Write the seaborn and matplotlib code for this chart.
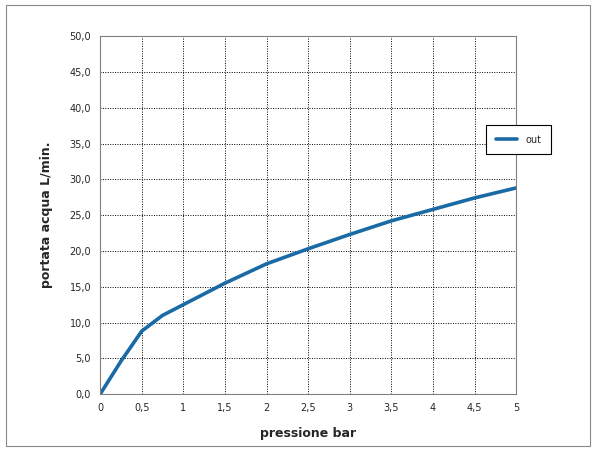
import matplotlib
matplotlib.use('Agg')
import matplotlib.pyplot as plt
import seaborn as sns
import pandas as pd
from matplotlib.patches import Rectangle

# pressure (bar) vs water flow (L/min)
pressione = [0, 0.25, 0.5, 0.75, 1, 1.5, 2, 2.5, 3, 3.5, 4, 4.5, 5]
portata = [0, 4.6, 8.8, 11.0, 12.5, 15.5, 18.2, 20.3, 22.3, 24.2, 25.8, 27.4, 28.8]
serie = "out"

x_ticks = [0, 0.5, 1, 1.5, 2, 2.5, 3, 3.5, 4, 4.5, 5]
y_ticks = [0, 5, 10, 15, 20, 25, 30, 35, 40, 45, 50]

df = pd.DataFrame({"pressione bar": pressione, "portata": portata, "serie": serie})

sns.set_style("white")
fig = plt.figure(figsize=(5.96, 4.51), dpi=100)
ax = fig.add_axes([0.168, 0.126, 0.698, 0.794])

fig.patches.append(Rectangle((0.01, 0.01), 0.98, 0.98, transform=fig.transFigure,
                             fill=False, edgecolor="#888888", linewidth=0.8))

sns.lineplot(data=df, x="pressione bar", y="portata", hue="serie",
             palette=["#1a6aa6"], linewidth=2.6, ax=ax)

ax.set_xlim(0, 5)
ax.set_ylim(0, 50)
ax.set_xticks(x_ticks)
ax.set_yticks(y_ticks)
ax.set_xticklabels([f"{v:g}".replace(".", ",") for v in x_ticks], fontsize=7)
ax.set_yticklabels([f"{v:.1f}".replace(".", ",") for v in y_ticks], fontsize=7)
ax.grid(True, color="black", linestyle=(0, (1, 1.5)), linewidth=0.7)
for s in ax.spines.values():
    s.set_color("#808080")
    s.set_linewidth(0.8)
ax.tick_params(length=3, color="#808080")

ax.set_xlabel("pressione bar", fontsize=9, fontweight="bold", labelpad=10)
ax.set_ylabel("portata acqua L/min.", fontsize=9, fontweight="bold", labelpad=12)

leg = ax.legend(loc="upper left", bbox_to_anchor=(0.928, 0.752), frameon=True,
                fancybox=False, fontsize=7, handlelength=2.2, borderpad=1.0,
                borderaxespad=0, framealpha=1)
leg.get_frame().set_edgecolor("black")
leg.get_frame().set_linewidth(0.8)

fig.savefig("out.png", dpi=100)
